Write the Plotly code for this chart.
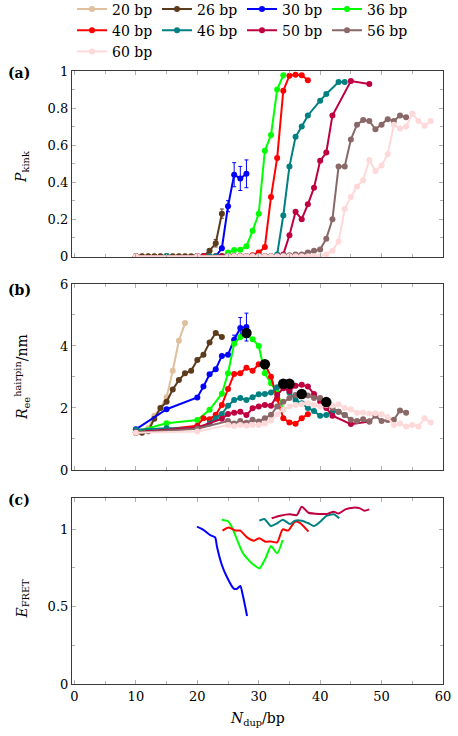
import plotly.graph_objects as go
from plotly.subplots import make_subplots

# ---- series names / colours ----
names = ["20 bp", "26 bp", "30 bp", "36 bp", "40 bp", "46 bp", "50 bp", "56 bp", "60 bp"]
colors = ["#e0bf9c", "#5c3b1c", "#0000ff", "#00ff00", "#ff0000", "#008080", "#bf0040", "#8a6868", "#ffd9d9"]

# ---- panel (a): P_kink ----
a_x20 = [10, 11, 12, 13, 14, 15, 16, 17, 18]
a_y20 = [0, 0, 0, 0, 0, 0, 0, 0, 0]
a_x26 = [11, 12, 13, 14, 15, 16, 17, 18, 19, 20, 21, 22, 23, 24]
a_y26 = [0, 0, 0, 0, 0, 0, 0, 0, 0, 0, 0, 0.03, 0.07, 0.23]
a_e26 = [0, 0, 0, 0, 0, 0, 0, 0, 0, 0, 0, 0.01, 0.02, 0.025]
a_x30 = [10, 15, 20, 21, 22, 23, 24, 25, 26, 27, 28]
a_y30 = [0, 0, 0, 0, 0, 0, 0.043, 0.27, 0.44, 0.42, 0.445]
a_e30 = [0, 0, 0, 0, 0, 0, 0.01, 0.03, 0.065, 0.065, 0.075]
a_x36 = [10, 15, 20, 22, 24, 25, 26, 27, 28, 29, 30, 31, 32, 33, 34]
a_y36 = [0, 0, 0, 0, 0, 0.02, 0.034, 0.035, 0.054, 0.137, 0.23, 0.57, 0.655, 0.90, 0.977]
a_x40 = [10, 20, 21, 22, 23, 24, 25, 26, 27, 28, 29, 30, 31, 32, 33, 34, 35, 36, 37, 38]
a_y40 = [0, 0, 0, 0, 0, 0, 0, 0, 0, 0, 0.005, 0.02, 0.05, 0.32, 0.53, 0.894, 0.975, 0.98, 0.977, 0.95]
a_x46 = [10, 15, 20, 22, 23, 24, 25, 26, 27, 28, 29, 30, 31, 32, 33, 34, 35, 36, 37, 38, 40, 41, 43, 44]
a_y46 = [0, 0, 0, 0, 0, 0, 0, 0, 0, 0, 0, 0, 0, 0, 0.01, 0.22, 0.485, 0.645, 0.70, 0.76, 0.84, 0.876, 0.94, 0.94]
a_x50 = [10, 20, 24, 25, 26, 27, 28, 29, 30, 31, 32, 33, 34, 35, 36, 37, 38, 39, 40, 41, 42, 45, 48]
a_y50 = [0, 0, 0, 0, 0, 0, 0, 0, 0, 0, 0, 0, 0.01, 0.113, 0.24, 0.20, 0.28, 0.37, 0.515, 0.56, 0.76, 0.946, 0.93]
a_x56 = [10, 20, 25, 26, 27, 28, 29, 30, 31, 32, 33, 34, 35, 36, 37, 38, 39, 40, 41, 42, 43, 44, 45,
         46, 47, 48, 49, 50, 51, 52, 53, 54]
a_y56 = [0, 0, 0, 0, 0, 0, 0, 0, 0, 0, 0, 0.005, 0.005, 0.01, 0.01, 0.02, 0.03, 0.036, 0.095, 0.20, 0.485,
         0.485, 0.63, 0.71, 0.735, 0.73, 0.685, 0.71, 0.74, 0.73, 0.76, 0.75]
a_x60 = [10, 20, 25, 26, 27, 28, 29, 30, 31, 32, 33, 34, 35, 36, 37, 38, 39, 40, 41, 42, 43, 44, 45,
         46, 47, 48, 49, 50, 51, 52, 53, 54, 55, 56, 57, 58]
a_y60 = [0, 0, 0, 0, 0, 0, 0, 0, 0, 0, 0, 0, 0, 0, 0, 0, 0, 0, 0.01, 0.03, 0.08, 0.255, 0.32, 0.377,
         0.41, 0.52, 0.46, 0.49, 0.55, 0.71, 0.69, 0.70, 0.77, 0.73, 0.705, 0.73]

# ---- panel (b): R_ee hairpin / nm ----
b_x20 = [12, 13, 14, 15, 16, 17, 18]
b_y20 = [1.35, 1.75, 2.0, 2.35, 3.2, 4.17, 4.74]
b_x26 = [11, 12, 13, 14, 15, 16, 17, 18, 19, 20, 21, 22, 23, 24]
b_y26 = [1.2, 1.25, 1.65, 2.0, 2.2, 2.6, 2.9, 3.12, 3.2, 3.55, 3.72, 4.11, 4.42, 4.29]
b_x30 = [10, 15, 20, 21, 22, 23, 24, 25, 26, 27, 28]
b_y30 = [1.31, 1.96, 2.34, 2.69, 3.09, 3.25, 3.68, 3.72, 4.2, 4.58, 4.61]
b_e30 = [0, 0, 0, 0, 0, 0, 0, 0, 0.15, 0.34, 0.45]
b_x36 = [10, 15, 20, 22, 24, 25, 26, 27, 28, 29, 30, 31, 32, 33, 34]
b_y36 = [1.24, 1.51, 1.61, 1.94, 2.46, 3.12, 4.07, 4.29, 4.35, 4.22, 4.0, 3.12, 2.8, 2.5, 1.95]
b_x40 = [10, 20, 21, 22, 23, 24, 25, 26, 27, 28, 29, 30, 31, 32, 33, 34, 35, 36, 37, 38]
b_y40 = [1.2, 1.43, 1.67, 1.64, 1.78, 2.1, 2.61, 3.1, 3.12, 3.3, 3.2, 3.41, 3.41, 3.01, 2.3, 1.67,
         1.53, 1.49, 1.67, 1.8]
b_x46 = [10, 15, 20, 22, 23, 24, 25, 26, 27, 28, 29, 30, 31, 32, 33, 34, 35, 36, 37, 38, 39, 40,
         41, 42, 43, 44]
b_y46 = [1.3, 1.35, 1.33, 1.5, 1.67, 1.81, 2.07, 2.26, 2.32, 2.26, 2.35, 2.44, 2.45, 2.5, 2.67, 2.72,
         2.5, 2.26, 2.15, 2.0, 1.9, 1.75, 1.77, 1.88, 1.88, 1.77]
b_x50 = [10, 20, 24, 25, 26, 27, 28, 29, 30, 31, 32, 33, 34, 35, 36, 37, 38, 39, 40, 41, 42, 45, 48]
b_y50 = [1.22, 1.37, 1.65, 1.81, 1.85, 1.88, 1.77, 1.99, 2.05, 2.1, 2.07, 2.42, 2.64, 2.55, 2.72,
         2.75, 2.69, 2.45, 2.21, 2.0, 1.75, 1.48, 1.56]
b_x56 = [10, 20, 25, 26, 27, 28, 29, 30, 31, 32, 33, 34, 35, 36, 37, 38, 39, 40, 41, 42, 43, 44, 45,
         46, 47, 48, 49, 50, 51, 52, 53, 54]
b_y56 = [1.2, 1.33, 1.58, 1.5, 1.58, 1.52, 1.62, 1.56, 1.67, 1.78, 2.05, 2.2, 2.32, 2.42, 2.42, 2.4,
         2.32, 2.32, 2.17, 2.0, 1.88, 1.77, 1.62, 1.58, 1.64, 1.56, 1.75, 1.58, 1.61, 1.62, 1.92, 1.85]
b_x60 = [10, 20, 25, 26, 27, 28, 29, 30, 31, 32, 33, 34, 35, 36, 37, 38, 39, 40, 41, 42, 43, 44, 45,
         46, 47, 48, 49, 50, 51, 52, 53, 54, 55, 56, 57, 58]
b_y60 = [1.2, 1.24, 1.45, 1.42, 1.45, 1.43, 1.45, 1.45, 1.5, 1.6, 1.8, 1.95, 2.05, 2.1, 2.12, 2.15,
         2.1, 2.05, 2.1, 2.08, 2.12, 2.0, 1.96, 1.85, 1.85, 1.82, 1.83, 1.8, 1.7, 1.45, 1.5, 1.4, 1.45,
         1.4, 1.67, 1.53]
b_xmark = [28, 31, 34, 35, 37, 41]
b_ymark = [4.42, 3.41, 2.78, 2.78, 2.45, 2.19]

# ---- panel (c): E_FRET ----
c_x30 = [19.95, 21.0, 22.1, 22.9, 23.2, 24.0, 24.8, 25.9, 26.4, 27.0, 27.4, 28.1]
c_y30 = [1.015, 0.994, 0.961, 0.946, 0.886, 0.768, 0.692, 0.617, 0.613, 0.632, 0.574, 0.439]
c_x36 = [24.0, 25.0, 25.6, 26.5, 27.3, 28.1, 28.9, 30.1, 31.1, 32.0, 33.0, 33.9]
c_y36 = [1.06, 1.05, 1.015, 0.929, 0.854, 0.81, 0.778, 0.746, 0.81, 0.89, 0.843, 0.929]
c_x40 = [24.1, 25.1, 26.2, 27.0, 28.1, 29.2, 30.1, 31.1, 32.0, 33.0, 33.9, 34.8, 35.9, 36.7, 38.1]
c_y40 = [0.99, 1.01, 0.99, 0.99, 0.946, 0.925, 0.94, 0.918, 0.92, 0.914, 0.998, 0.99, 1.047, 1.04, 0.983]
c_x46 = [30.1, 30.9, 32.0, 33.0, 33.9, 35.1, 35.9, 37.0, 38.1, 39.0, 40.0, 41.1, 42.2, 43.1]
c_y46 = [1.054, 1.065, 1.019, 1.037, 1.06, 1.032, 1.054, 1.054, 1.037, 1.019, 1.047, 1.086, 1.095, 1.069]
c_x50 = [32.1, 33.5, 35.1, 36.2, 37.0, 38.1, 40.0, 41.1, 42.2, 43.0, 44.1, 45.4, 46.5, 47.2, 48.0]
c_y50 = [1.069, 1.086, 1.095, 1.09, 1.144, 1.105, 1.097, 1.097, 1.112, 1.10, 1.127, 1.138, 1.133, 1.118, 1.127]

FONT = "DejaVu Serif"

fig = make_subplots(rows=3, cols=1)

a_series = [(a_x20, a_y20, None), (a_x26, a_y26, a_e26), (a_x30, a_y30, a_e30), (a_x36, a_y36, None),
            (a_x40, a_y40, None), (a_x46, a_y46, None), (a_x50, a_y50, None), (a_x56, a_y56, None),
            (a_x60, a_y60, None)]
b_series = [(b_x20, b_y20, None), (b_x26, b_y26, None), (b_x30, b_y30, b_e30), (b_x36, b_y36, None),
            (b_x40, b_y40, None), (b_x46, b_y46, None), (b_x50, b_y50, None), (b_x56, b_y56, None),
            (b_x60, b_y60, None)]

for i, (x, y, e) in enumerate(a_series):
    fig.add_trace(go.Scatter(
        x=x, y=y, mode='lines+markers', name=names[i], legendgroup=names[i],
        line=dict(color=colors[i], width=2), marker=dict(size=6, color=colors[i]),
        error_y=dict(array=e, color=colors[i], thickness=1, width=2) if e else None,
    ), row=1, col=1)

for i, (x, y, e) in enumerate(b_series):
    fig.add_trace(go.Scatter(
        x=x, y=y, mode='lines+markers', name=names[i], legendgroup=names[i], showlegend=False,
        line=dict(color=colors[i], width=2), marker=dict(size=6, color=colors[i]),
        error_y=dict(array=e, color=colors[i], thickness=1, width=2) if e else None,
    ), row=2, col=1)

fig.add_trace(go.Scatter(x=b_xmark, y=b_ymark, mode='markers', showlegend=False,
                         marker=dict(size=10.5, color='black')), row=2, col=1)

c_series = [(c_x30, c_y30, 2), (c_x36, c_y36, 3), (c_x40, c_y40, 4), (c_x46, c_y46, 5), (c_x50, c_y50, 6)]
for x, y, ci in c_series:
    fig.add_trace(go.Scatter(x=x, y=y, mode='lines', showlegend=False, legendgroup=names[ci],
                             line=dict(color=colors[ci], width=2, shape='spline', smoothing=0.6)),
                  row=3, col=1)

axis_style = dict(showline=True, mirror='ticks', linecolor='#3a3a3a', linewidth=1.2,
                  ticks='inside', ticklen=4, tickcolor='#b0b0b0', showgrid=False, zeroline=False,
                  tickfont=dict(family=FONT, size=13, color='black'))

for r in (1, 2, 3):
    fig.update_xaxes(range=[-0.4, 60], dtick=10, minor=dict(ticks='inside', dtick=5, ticklen=3,
                     tickcolor='#b0b0b0'), showticklabels=(r == 3), **axis_style, row=r, col=1)

# plot area spans y = 0 .. 684 px (legend sits inside it, above panel a)
fig.update_yaxes(range=[-0.004, 1], dtick=0.2, minor=dict(ticks='inside', dtick=0.1, ticklen=3,
                 tickcolor='#b0b0b0'), domain=[0.6243, 0.8962], **axis_style, row=1, col=1)
fig.update_yaxes(range=[0, 6], dtick=2, minor=dict(ticks='inside', dtick=1, ticklen=3,
                 tickcolor='#b0b0b0'), domain=[0.3129, 0.5848], **axis_style, row=2, col=1)
fig.update_yaxes(range=[0, 1.2], tickvals=[0, 0.5, 1], ticktext=["0", "0.5", "1"],
                 minor=dict(ticks='inside', tickvals=[0.25, 0.75], ticklen=3, tickcolor='#b0b0b0'),
                 domain=[0.0, 0.2719], **axis_style, row=3, col=1)

panel_labels = ["(a)", "(b)", "(c)"]
panel_mid = [0.8933, 0.5760, 0.2690]
annotations = []
for lab, ymid in zip(panel_labels, panel_mid):
    annotations.append(dict(text="<b>" + lab + "</b>", xref='paper', yref='paper', x=0, xshift=-66, y=ymid,
                            xanchor='left', yanchor='middle', showarrow=False,
                            font=dict(family=FONT, size=14, color='black')))

annotations += [
    dict(text="<i>P</i><sub>kink</sub>", xref='paper', yref='paper', x=0, xshift=-50, y=0.756,
         xanchor='center', yanchor='middle', textangle=-90, showarrow=False,
         font=dict(family=FONT, size=14, color='black')),
    dict(text="<i>R</i><sub>ee</sub><sup>hairpin</sup>/nm", xref='paper', yref='paper', x=0, xshift=-50,
         y=0.4488, xanchor='center', yanchor='middle', textangle=-90, showarrow=False,
         font=dict(family=FONT, size=14, color='black')),
    dict(text="<i>E</i><sub>FRET</sub>", xref='paper', yref='paper', x=0, xshift=-50, y=0.125,
         xanchor='center', yanchor='middle', textangle=-90, showarrow=False,
         font=dict(family=FONT, size=14, color='black')),
    dict(text="<i>N</i><sub>dup</sub>/bp", xref='paper', yref='paper', x=0.5, y=0, yshift=-35,
         yanchor='middle', showarrow=False, font=dict(family=FONT, size=14, color='black')),
]

fig.update_layout(
    width=458, height=736,
    margin=dict(l=72, r=15, t=0, b=52, autoexpand=False),
    plot_bgcolor='white', paper_bgcolor='white',
    font=dict(family=FONT, size=13, color='black'),
    annotations=annotations,
    legend=dict(orientation='h', x=0.0, y=1.0095, xanchor='left', yanchor='top',
                itemwidth=30, entrywidth=40, entrywidthmode='pixels', tracegroupgap=0,
                font=dict(family=FONT, size=14, color='black'), bgcolor='rgba(0,0,0,0)'),
)

# the page body has a default 8px margin; drop it so the figure sits at the window origin
fig.write_html("out.html", config={'displayModeBar': False},
               post_script="document.body.style.margin='0';")
